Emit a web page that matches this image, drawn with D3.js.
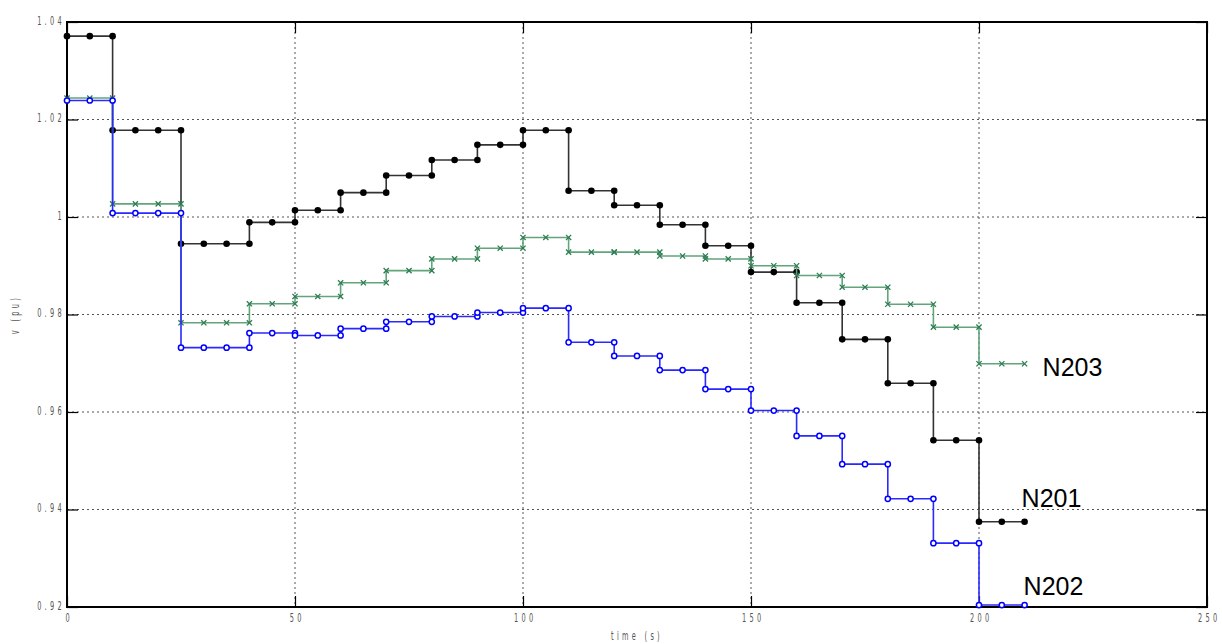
<!DOCTYPE html>
<html>
<head>
<meta charset="utf-8">
<script src="https://cdn.jsdelivr.net/npm/d3@7"></script>
<style>
  body { margin: 0; background: #fff; }
  svg { display: block; }
  .tick-label { font-family: "DejaVu Sans", sans-serif; font-size: 12px; fill: #555; letter-spacing: 6px; }
  .node-label { font-family: "Liberation Sans", Arial, sans-serif; font-size: 25px; fill: #000; }
</style>
</head>
<body>
<div id="chart"></div>
<script>
// Step voltages at three nodes

const stepStarts = [0, 10, 25, 40, 50, 60, 70, 80, 90, 100, 110, 120, 130, 140, 150, 160, 170, 180, 190, 200];
const endTime = 210;
const sampleStep = 5;

const n201 = [1.0371, 1.0178, 0.9945, 0.9989, 1.0014, 1.0050, 1.0085, 1.0117, 1.0148, 1.0178,
              1.0054, 1.0024, 0.9984, 0.9941, 0.9887, 0.9824, 0.9749, 0.9659, 0.9542, 0.9375];
const n202 = [1.0239, 1.0008, 0.9732, 0.9762, 0.9757, 0.9771, 0.9785, 0.9796, 0.9804, 0.9813,
              0.9743, 0.9715, 0.9686, 0.9647, 0.9603, 0.9551, 0.9493, 0.9422, 0.9331, 0.9204];
const n203 = [1.0244, 1.0027, 0.9783, 0.9822, 0.9837, 0.9865, 0.9890, 0.9914, 0.9936, 0.9958,
              0.9928, 0.9928, 0.9920, 0.9914, 0.9900, 0.9880, 0.9856, 0.9821, 0.9774, 0.9699];

const xTicks = [0, 50, 100, 150, 200, 250];
const yTicks = [0.92, 0.94, 0.96, 0.98, 1.00, 1.02, 1.04];
const yTickLabels = ["0.92", "0.94", "0.96", "0.98", "1", "1.02", "1.04"];

const width = 1222, height = 644;
const margin = { top: 22, right: 15, bottom: 37, left: 67 };
const iw = width - margin.left - margin.right;
const ih = height - margin.top - margin.bottom;

const svg = d3.select("#chart").append("svg")
    .attr("width", width)
    .attr("height", height);

const g = svg.append("g")
    .attr("transform", `translate(${margin.left},${margin.top})`);

const x = d3.scaleLinear().domain([0, 250]).range([0, iw]);
const y = d3.scaleLinear().domain([0.92, 1.04]).range([ih, 0]);

// samples every 5 s, each step holds its level from start to end (both ends sampled)
function samples(levels) {
    const pts = [];
    stepStarts.forEach((t0, i) => {
        const t1 = i + 1 < stepStarts.length ? stepStarts[i + 1] : endTime;
        for (let t = t0; t <= t1; t += sampleStep) pts.push([t, levels[i]]);
    });
    return pts;
}

// grid
g.append("g").selectAll("line")
    .data(xTicks.slice(1, -1))
    .enter().append("line")
    .attr("x1", d => x(d)).attr("x2", d => x(d))
    .attr("y1", 0).attr("y2", ih)
    .attr("stroke", "#555").attr("stroke-width", 1)
    .attr("stroke-dasharray", "2,3");

g.append("g").selectAll("line")
    .data(yTicks.slice(1, -1))
    .enter().append("line")
    .attr("y1", d => y(d)).attr("y2", d => y(d))
    .attr("x1", 0).attr("x2", iw)
    .attr("stroke", "#555").attr("stroke-width", 1)
    .attr("stroke-dasharray", "2,3");

// axes (inward ticks on all four sides)
const sx = 0.55;
const xAxis = g.append("g")
    .attr("transform", `translate(0,${ih})`)
    .call(d3.axisBottom(x).tickValues(xTicks).tickSize(-11).tickPadding(0).tickSizeOuter(0));
xAxis.selectAll("text")
    .attr("class", "tick-label")
    .attr("transform", `scale(${sx},1)`)
    .attr("y", 6)
    .attr("dy", "0.71em")
    .attr("dx", "3px");

const yAxis = g.append("g")
    .call(d3.axisLeft(y).tickValues(yTicks).tickFormat((d, i) => yTickLabels[i])
        .tickSize(-11).tickSizeOuter(0));
yAxis.selectAll("text")
    .attr("class", "tick-label")
    .attr("transform", `scale(${sx},1)`)
    .attr("x", -2 / sx)
    .attr("dy", "0.2em");

g.append("g").attr("transform", `translate(${iw},0)`)
    .call(d3.axisRight(y).tickValues(yTicks).tickSize(-11).tickFormat("").tickSizeOuter(0));
g.append("g")
    .call(d3.axisTop(x).tickValues(xTicks).tickSize(-11).tickFormat("").tickSizeOuter(0));

g.selectAll(".tick line").attr("stroke", "#000").attr("stroke-width", 1.2);
g.selectAll(".domain").remove();

g.append("rect")
    .attr("width", iw).attr("height", ih)
    .attr("fill", "none").attr("stroke", "#000").attr("stroke-width", 2);

// axis titles
svg.append("text")
    .attr("class", "tick-label")
    .attr("transform", `translate(${margin.left + iw / 2},${height - 4}) scale(${sx},1)`)
    .attr("text-anchor", "middle")
    .text("time (s)");

svg.append("text")
    .attr("class", "tick-label")
    .attr("transform", `translate(19,${margin.top + ih / 2}) rotate(-90) scale(${sx},1)`)
    .attr("text-anchor", "middle")
    .text("v (pu)");

// series
const line = d3.line().x(d => x(d[0])).y(d => y(d[1]));

function drawSeries(levels, lineColor, marker, markColor) {
    const pts = samples(levels);
    g.append("path")
        .datum(pts)
        .attr("d", line)
        .attr("fill", "none")
        .attr("stroke", lineColor)
        .attr("stroke-width", 1.6);
    const m = g.append("g");
    if (marker === "dot") {
        m.selectAll("circle").data(pts).enter().append("circle")
            .attr("cx", d => x(d[0])).attr("cy", d => y(d[1]))
            .attr("r", 3.3).attr("fill", markColor);
    } else if (marker === "ring") {
        m.selectAll("circle").data(pts).enter().append("circle")
            .attr("cx", d => x(d[0])).attr("cy", d => y(d[1]))
            .attr("r", 2.6).attr("fill", "#fff")
            .attr("stroke", markColor).attr("stroke-width", 1.5);
    } else {
        m.selectAll("path").data(pts).enter().append("path")
            .attr("transform", d => `translate(${x(d[0])},${y(d[1])})`)
            .attr("d", "M-2.6,-2.6L2.6,2.6M-2.6,2.6L2.6,-2.6")
            .attr("stroke", markColor).attr("stroke-width", 1.3);
    }
    return pts;
}

const p201 = drawSeries(n201, "#333", "dot", "#000");
const p203 = drawSeries(n203, "#62a57c", "cross", "#2e7d52");
const p202 = drawSeries(n202, "#2a2aff", "ring", "#0000ff");

// node labels next to the last samples
const labels = [
    { name: "N203", pt: p203[p203.length - 1], dx: 18, dy: 12 },
    { name: "N201", pt: p201[p201.length - 1], dx: -3, dy: -15 },
    { name: "N202", pt: p202[p202.length - 1], dx: -1, dy: -10 }
];
g.selectAll(".node-label").data(labels).enter().append("text")
    .attr("class", "node-label")
    .attr("x", d => x(d.pt[0]) + d.dx)
    .attr("y", d => y(d.pt[1]) + d.dy)
    .text(d => d.name);
</script>
</body>
</html>
